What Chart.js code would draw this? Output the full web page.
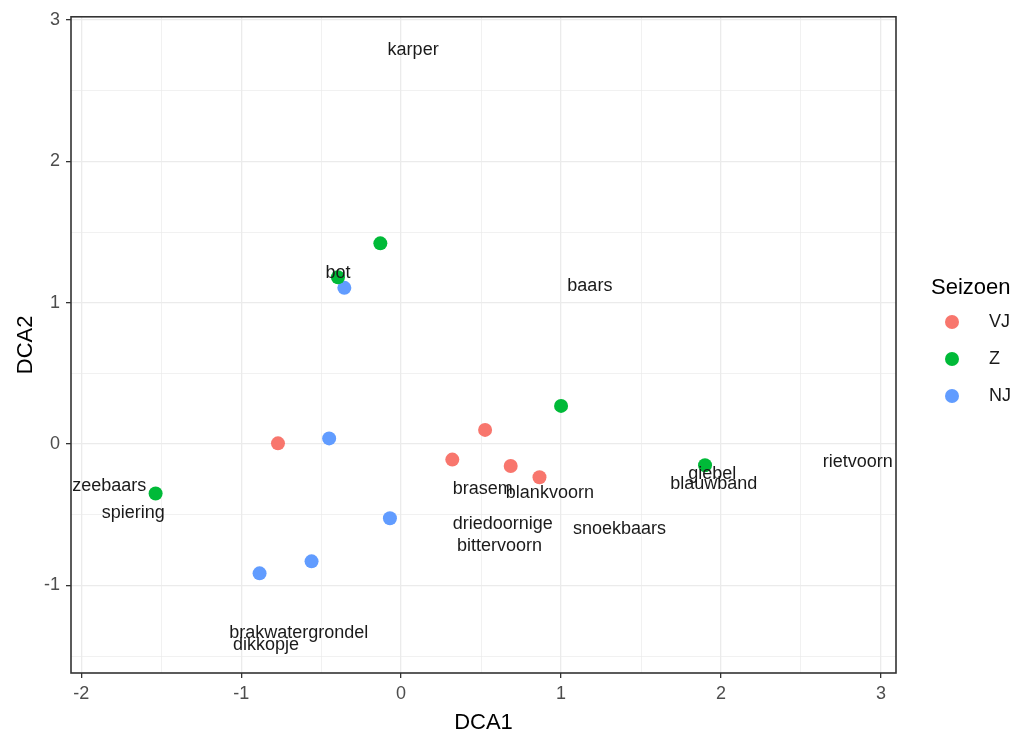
<!DOCTYPE html>
<html>
<head>
<meta charset="utf-8">
<script src="https://cdn.jsdelivr.net/npm/chart.js@4/dist/chart.umd.min.js"></script>
<style>
  html, body { margin: 0; padding: 0; background: #ffffff; }
  #wrap { width: 1021px; height: 735px; }
</style>
</head>
<body>
<div id="wrap"><canvas id="dca" width="1021" height="735"></canvas></div>
<script>
// Site scores per season (DCA axis 1 and 2)
const seasonNames = ['VJ', 'Z', 'NJ'];
const seasonColors = ['#F8766D', '#00BA38', '#619CFF'];

const vjX = [-0.77, 0.32, 0.525, 0.685, 0.865];
const vjY = [0.005, -0.11, 0.10, -0.155, -0.235];

const zX = [-1.535, -0.395, -0.13, 1.00, 1.90];
const zY = [-0.35, 1.18, 1.42, 0.27, -0.15];

const njX = [-0.355, -0.45, -0.07, -0.56, -0.885];
const njY = [1.105, 0.04, -0.525, -0.83, -0.915];

// Species scores
const speciesNames = ['karper', 'bot', 'baars', 'zeebaars', 'spiering', 'brasem', 'blankvoorn',
  'driedoornige', 'bittervoorn', 'snoekbaars', 'giebel', 'blauwband', 'rietvoorn',
  'brakwatergrondel', 'dikkopje'];
const speciesX = [0.075, -0.395, 1.18, -1.825, -1.675, 0.51, 0.93,
  0.635, 0.615, 1.365, 1.945, 1.955, 2.855, -0.64, -0.845];
const speciesY = [2.79, 1.21, 1.12, -0.30, -0.49, -0.315, -0.35,
  -0.565, -0.72, -0.60, -0.21, -0.28, -0.13, -1.335, -1.425];

// Axis ticks (whole numbers labelled, halves are minor grid lines)
const xTicks = [-2, -1.5, -1, -0.5, 0, 0.5, 1, 1.5, 2, 2.5, 3];
const yTicks = [-1.5, -1, -0.5, 0, 0.5, 1, 1.5, 2, 2.5, 3];

const FONT = "'Liberation Sans', Arial, sans-serif";

function toPoints(xs, ys) { return xs.map((x, i) => ({ x: x, y: ys[i] })); }
const seasonData = [toPoints(vjX, vjY), toPoints(zX, zY), toPoints(njX, njY)];

const isMajor = v => Math.abs(v - Math.round(v)) < 1e-9;

const gridOpts = {
  color: c => '#ebebeb',
  lineWidth: c => (c.tick && isMajor(c.tick.value)) ? 1.3 : 0.7,
  tickColor: c => (c.tick && isMajor(c.tick.value)) ? '#333333' : 'rgba(0,0,0,0)',
  tickLength: 5,
  tickWidth: 1.3,
  drawTicks: true
};

// Panel border
const panelBorder = {
  id: 'panelBorder',
  afterDraw(chart) {
    const { ctx, chartArea: a } = chart;
    ctx.save();
    ctx.strokeStyle = '#333333';
    ctx.lineWidth = 1.6;
    ctx.strokeRect(a.left, a.top, a.right - a.left, a.bottom - a.top);
    ctx.restore();
  }
};

// Species names placed at their scores
const speciesLabels = {
  id: 'speciesLabels',
  afterDatasetsDraw(chart) {
    const { ctx, scales: { x, y } } = chart;
    ctx.save();
    ctx.font = '18px ' + FONT;
    ctx.fillStyle = '#1a1a1a';
    ctx.textAlign = 'center';
    ctx.textBaseline = 'middle';
    speciesNames.forEach((name, i) => {
      ctx.fillText(name, x.getPixelForValue(speciesX[i]), y.getPixelForValue(speciesY[i]));
    });
    ctx.restore();
  }
};

// Legend for the season colours
const seasonLegend = {
  id: 'seasonLegend',
  afterDraw(chart) {
    const { ctx } = chart;
    ctx.save();
    ctx.textBaseline = 'middle';
    ctx.textAlign = 'left';
    ctx.fillStyle = '#000000';
    ctx.font = '22px ' + FONT;
    ctx.fillText('Seizoen', 931, 288);
    chart.data.datasets.forEach((ds, i) => {
      const cy = 322 + i * 37;
      ctx.beginPath();
      ctx.arc(952, cy, 7, 0, Math.PI * 2);
      ctx.fillStyle = ds.backgroundColor;
      ctx.fill();
      ctx.fillStyle = '#1a1a1a';
      ctx.font = '18px ' + FONT;
      ctx.fillText(ds.label, 989, cy);
    });
    ctx.restore();
  }
};

new Chart(document.getElementById('dca'), {
  type: 'scatter',
  data: {
    datasets: seasonNames.map((name, i) => ({
      label: name,
      data: seasonData[i],
      backgroundColor: seasonColors[i],
      borderColor: seasonColors[i],
      borderWidth: 0,
      pointRadius: 7,
      pointHoverRadius: 7
    }))
  },
  options: {
    responsive: false,
    animation: false,
    devicePixelRatio: 1,
    layout: { padding: { left: 0, right: 125, top: 16, bottom: 0 } },
    plugins: {
      legend: { display: false },
      tooltip: { enabled: false }
    },
    scales: {
      x: {
        type: 'linear',
        min: -2.064,
        max: 3.094,
        afterBuildTicks: s => { s.ticks = xTicks.map(v => ({ value: v })); },
        afterFit: s => { s.height = 62; },
        grid: gridOpts,
        border: { display: false },
        ticks: {
          autoSkip: false,
          maxRotation: 0,
          padding: 5,
          color: '#4d4d4d',
          font: { family: FONT, size: 18 },
          callback: v => isMajor(v) ? String(v) : ''
        },
        title: {
          display: true,
          text: 'DCA1',
          color: '#000000',
          font: { family: FONT, size: 22, lineHeight: 1 },
          padding: { top: 0, bottom: 1 }
        }
      },
      y: {
        type: 'linear',
        min: -1.62,
        max: 3.023,
        afterBuildTicks: s => { s.ticks = yTicks.map(v => ({ value: v })); },
        afterFit: s => { s.width = 71; },
        grid: gridOpts,
        border: { display: false },
        ticks: {
          autoSkip: false,
          padding: 6,
          color: '#4d4d4d',
          font: { family: FONT, size: 18 },
          callback: v => isMajor(v) ? String(v) : ''
        },
        title: {
          display: true,
          text: 'DCA2',
          color: '#000000',
          font: { family: FONT, size: 22, lineHeight: 1 },
          padding: { top: 15, bottom: 0 }
        }
      }
    }
  },
  plugins: [panelBorder, speciesLabels, seasonLegend]
});
</script>
</body>
</html>
